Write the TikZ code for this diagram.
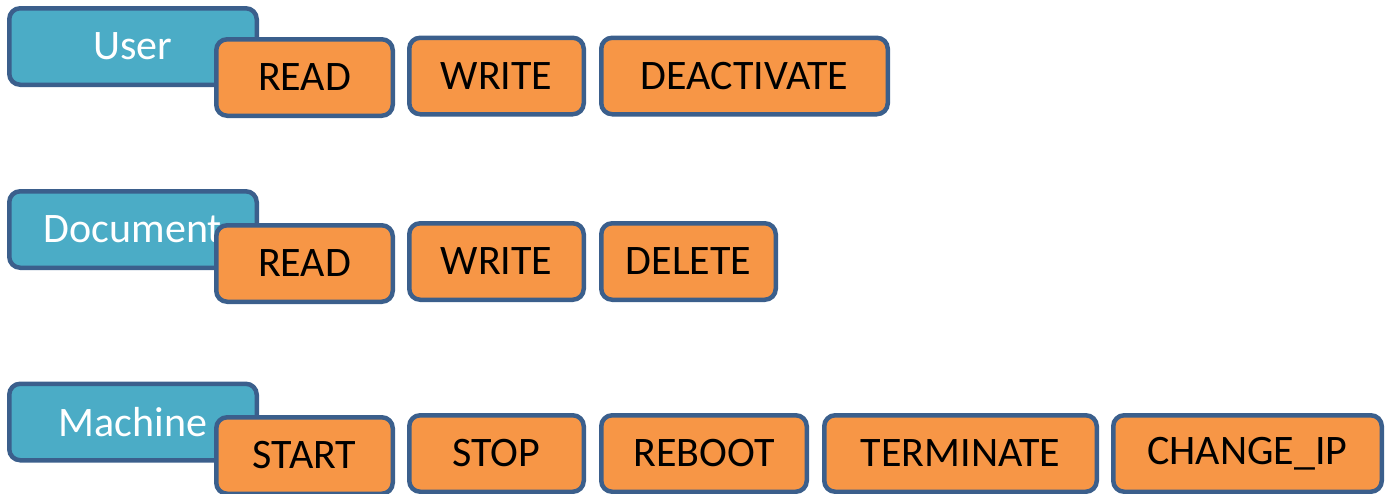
\documentclass[tikz,border=0pt]{standalone}
\usepackage{fontspec}
\setmainfont{Carlito}
\definecolor{edgeblue}{HTML}{3B5F8C}
\definecolor{teal}{HTML}{4BACC6}
\definecolor{orng}{HTML}{F79646}
\begin{document}
\begin{tikzpicture}[x=1pt,y=-1pt,
  box/.style={draw=edgeblue,line width=4.5pt,rounded corners=11pt,inner sep=0pt,
    minimum height=76.5pt,font=\fontsize{42}{50}\selectfont},
  cls/.style={box,fill=teal,text=white,minimum width=247.5pt},
  act/.style={box,fill=orng,text=black},
]
\useasboundingbox (0,0) rectangle (1385,493);
% User
\node[cls] (user) at (133,46.5) {User};
\node[act,minimum width=176.5pt] (uread) at (304.5,77.5) {\raisebox{-2pt}{READ}};
\node[act,minimum width=174.5pt] (uwrite) at (496.5,76) {\raisebox{-1pt}{WRITE}};
\node[act,minimum width=286.5pt] (udeact) at (744.5,76) {\raisebox{-1pt}{DEACTIVATE}};
% Document
\node[cls] (doc) at (133,229.5) {Document};
\node[act,minimum width=176.5pt] (dread) at (304.5,263.5) {\raisebox{-2pt}{READ}};
\node[act,minimum width=174.5pt] (dwrite) at (496.5,261.5) {\raisebox{-1pt}{WRITE}};
\node[act,minimum width=174.5pt] (ddelete) at (688.5,261.5) {\raisebox{-1pt}{DELETE}};
% Machine
\node[cls] (mach) at (133,422) {Machine};
\node[act,minimum width=176.5pt] (mstart) at (304.5,455.5) {\raisebox{-2pt}{START}};
\node[act,minimum width=174.5pt] (mstop) at (496.5,453.5) {\raisebox{-1pt}{STOP}};
\node[act,minimum width=205.5pt] (mreboot) at (704,453.5) {\raisebox{-1pt}{REBOOT}};
\node[act,minimum width=272.5pt] (mterm) at (960.5,453.5) {\raisebox{-1pt}{TERMINATE}};
\node[act,minimum width=268.5pt] (mchange) at (1247.5,453.5) {\raisebox{-1pt}{CHANGE\_IP}};
\end{tikzpicture}
\end{document}
